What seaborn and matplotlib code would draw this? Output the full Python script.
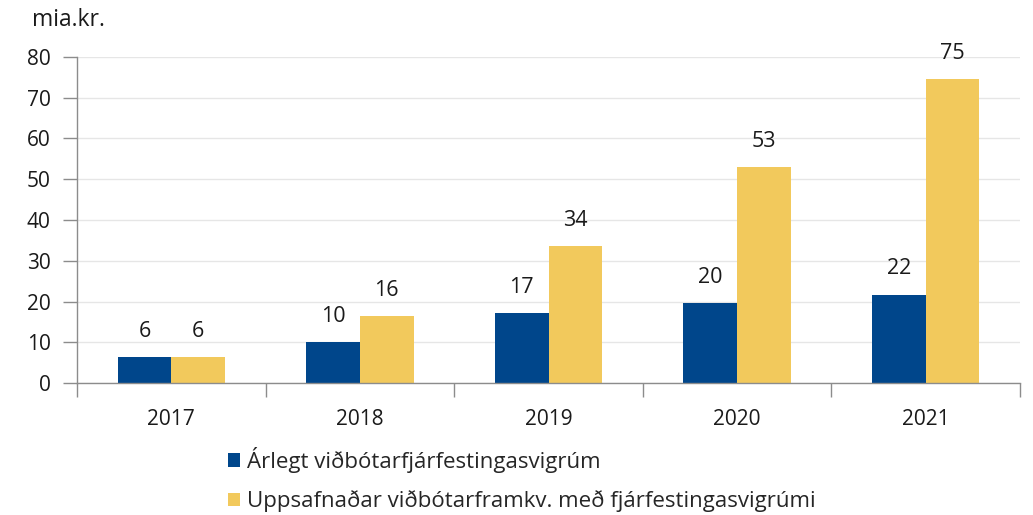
import matplotlib
matplotlib.use('Agg')
import matplotlib.pyplot as plt
import seaborn as sns
import pandas as pd
from matplotlib.ticker import FixedLocator

years = ['2017', '2018', '2019', '2020', '2021']
arlegt = [6.4, 10.1, 17.2, 19.6, 21.7]
uppsafnad = [6.4, 16.4, 33.5, 53.0, 74.6]
series_names = ['Árlegt viðbótarfjárfestingasvigrúm',
                'Uppsafnaðar viðbótarframkv. með fjárfestingasvigrúmi']
colors = ['#00468b', '#f2c95c']


def make_chart():
    sns.set_theme(style='white')
    plt.rcParams['font.family'] = ['Open Sans', 'DejaVu Sans']

    df = pd.DataFrame({
        'year': years * 2,
        'value': arlegt + uppsafnad,
        'series': [series_names[0]] * len(years) + [series_names[1]] * len(years),
    })

    fig = plt.figure(figsize=(10.33, 5.15), dpi=100)
    ax = fig.add_axes([77 / 1033, 132 / 515, 943 / 1033, 326 / 515])

    sns.barplot(data=df, x='year', y='value', hue='series', palette=colors,
                width=0.57, gap=0, saturation=1, linewidth=0, ax=ax, legend=True)

    for cont in ax.containers:
        ax.bar_label(cont, labels=[f'{v:.0f}' for v in cont.datavalues],
                     padding=11, fontsize=15.5, color='#1a1a1a')

    ax.set_ylim(0, 80)
    ax.set_xlim(-0.5, 4.5)
    ax.set_yticks(range(0, 81, 10))
    ax.yaxis.grid(True, color='#e6e6e6', linewidth=1)
    ax.set_axisbelow(True)
    ax.tick_params(axis='y', length=10, width=1, color='#8c8c8c', labelsize=15,
                   labelcolor='#1a1a1a', left=True, pad=9)
    ax.tick_params(axis='x', which='major', length=0, labelsize=15,
                   labelcolor='#1a1a1a', pad=19)
    ax.xaxis.set_minor_locator(FixedLocator([-0.5, 0.5, 1.5, 2.5, 3.5, 4.5]))
    ax.tick_params(axis='x', which='minor', length=10, width=1, color='#8c8c8c',
                   bottom=True)
    for side in ['top', 'right']:
        ax.spines[side].set_visible(False)
    for side in ['left', 'bottom']:
        ax.spines[side].set_color('#8c8c8c')
        ax.spines[side].set_linewidth(1)
    ax.set_xlabel('')
    ax.set_ylabel('')

    fig.text(32 / 1033, 1 - 20 / 515, 'mia.kr.', fontsize=16.5, va='center',
             ha='left', color='#1a1a1a')

    ax.legend(loc='upper left', bbox_to_anchor=(219 / 1033, 77 / 515),
              bbox_transform=fig.transFigure, frameon=False, fontsize=16,
              handlelength=0.55, handleheight=0.55, handletextpad=0.3,
              labelspacing=0.78, borderaxespad=0)

    fig.savefig('out.png', dpi=100)


if __name__ == '__main__':
    make_chart()
